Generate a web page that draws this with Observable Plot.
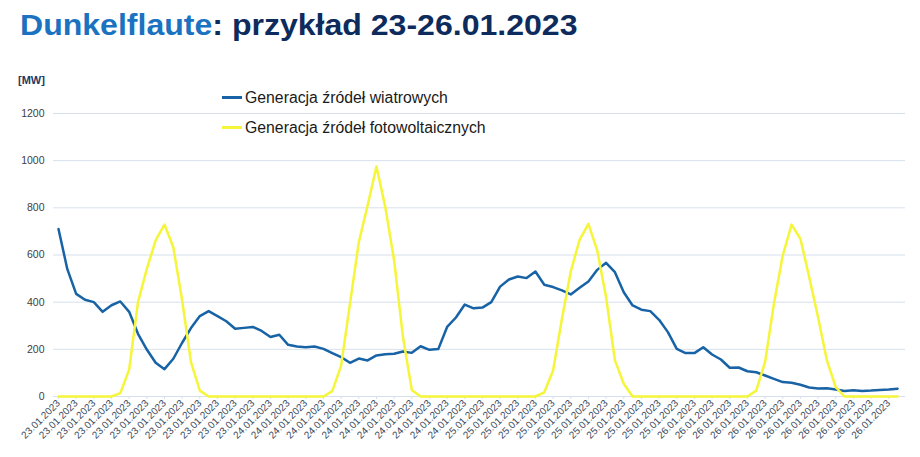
<!DOCTYPE html>
<html><head><meta charset="utf-8">
<script src="https://cdn.jsdelivr.net/npm/d3@7"></script>
<script src="https://cdn.jsdelivr.net/npm/@observablehq/plot@0.6"></script>
<style>
body{margin:0;background:#fff;font-family:"Liberation Sans",Arial,sans-serif;}
#title{height:55px;line-height:50px;padding-left:20px;font-size:29px;font-weight:bold;color:#0d2b5c;white-space:nowrap;}
#title div{display:inline-block;transform:scaleX(1.105);transform-origin:left center;}
#title .hl{color:#1a72c0;}
#chart{position:relative;width:920px;}
#unit{position:absolute;left:18px;top:19px;font-size:11px;font-weight:bold;color:#1f3864;}
.leg{position:absolute;left:222px;font-size:15.8px;color:#1a1a1a;white-space:nowrap;height:20px;line-height:20px;}
.leg span{display:inline-block;width:20px;height:3px;vertical-align:middle;margin-right:3px;position:relative;top:-1px;}
</style></head>
<body>
<div id="title"><div><span class="hl">Dunkelflaute</span>: przykład 23-26.01.2023</div></div>
<div id="chart">
  <div id="unit">[MW]</div>
  <div class="leg" id="leg1" style="top:33px"><span style="background:#1763a6"></span>Generacja źródeł wiatrowych</div>
  <div class="leg" id="leg2" style="top:63px"><span style="background:#f5f53a"></span>Generacja źródeł fotowoltaicznych</div>
</div>
<script>
const days = ["23.01.2023","24.01.2023","25.01.2023","26.01.2023"];
const tickLabels = [
  ...Array(12).fill(days[0]), ...Array(12).fill(days[1]),
  ...Array(12).fill(days[2]), ...Array(12).fill(days[3])
];
const yTicks = [0,200,400,600,800,1000,1200];
const wind = [710,540,435,410,400,359,387,403,359,266,199,143,116,160,228,290,341,362,341,319,287,291,295,278,
  252,262,219,212,209,212,202,184,167,143,161,153,174,179,181,191,185,213,198,201,295,335,390,374,
  377,400,466,496,509,502,530,474,464,450,433,461,488,537,567,527,442,386,368,362,325,273,202,184,
  184,209,178,157,122,123,107,103,89,75,61,58,50,38,34,35,30,23,27,23,25,28,30,33];
const pv = [0,0,0,0,0,0,0,14,114,400,541,662,729,633,407,146,25,0,0,0,0,0,0,0,
  0,0,0,0,0,0,0,23,131,393,654,810,975,803,577,252,28,0,0,0,0,0,0,0,
  0,0,0,0,0,0,0,18,110,330,530,664,732,619,421,153,54,0,0,0,0,0,0,0,
  0,0,0,0,0,0,0,25,146,393,598,729,669,506,336,153,40,0,0,0,0,0,0,0];

const tickIdx = d3.range(0, wind.length, 2);

const plot = Plot.plot({
  width: 920, height: 402,
  marginLeft: 53, marginRight: 15, marginTop: 58, marginBottom: 61,
  style: {fontFamily: "Liberation Sans, Arial, sans-serif", background: "transparent"},
  x: {type: "linear", domain: [-0.566, 95.9]},
  y: {domain: [0, 1200]},
  marks: [
    Plot.gridY(yTicks, {stroke: "#d6e0ec", strokeOpacity: 1, strokeWidth: 1}),
    Plot.axisY(yTicks, {tickSize: 0, tickPadding: 9, fontSize: 10.5, fill: "#404040", label: null,
      tickFormat: d => String(d)}),
    Plot.axisX(tickIdx, {tickSize: 3, stroke: "#d6e0ec", tickRotate: -45, tickPadding: 2,
      tickFormat: i => tickLabels[i / 2], fontSize: 10, fill: "#3b4a5e", label: null}),
    Plot.line(wind, {x: (d, i) => i, y: d => d, stroke: "#1763a6", strokeWidth: 2.5}),
    Plot.line(pv, {x: (d, i) => i, y: d => d, stroke: "#f5f53a", strokeWidth: 2.5})
  ]
});
document.getElementById("chart").prepend(plot);
</script>
</body></html>
